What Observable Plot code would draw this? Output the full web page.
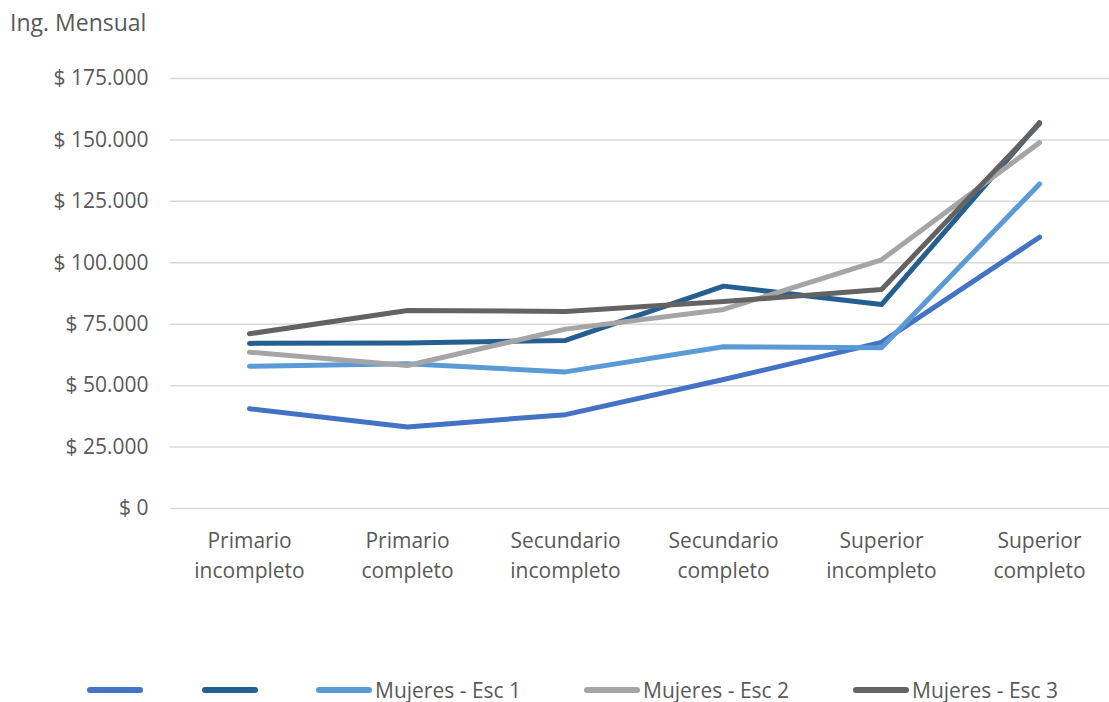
<!DOCTYPE html>
<html>
<head>
<meta charset="utf-8">
<script src="https://cdn.jsdelivr.net/npm/d3@7"></script>
<script src="https://cdn.jsdelivr.net/npm/@observablehq/plot@0.6"></script>
<style>
  html, body { margin: 0; padding: 0; background: #fff; }
  body { width: 1109px; height: 702px; overflow: hidden; font-family: "Open Sans", sans-serif; color: #595959; position: relative; }
  #title { height: 40px; line-height: 40px; padding-left: 10px; font-size: 23px; box-sizing: border-box; margin-top: 2px; }
  #chart { height: 600px; }
  #legend { position: absolute; top: 678px; left: 0; width: 1109px; height: 24px; }
  .item { position: absolute; top: 0; display: flex; align-items: center; height: 24px; line-height: 24px; font-size: 21px; }
  .sw { width: 56px; height: 6px; border-radius: 3px; }
  .lab { margin-left: 3px; white-space: nowrap; }
</style>
</head>
<body>
<div id="title">Ing. Mensual</div>
<div id="chart"></div>
<div id="legend"></div>
<script>
const categories = ["Primario\nincompleto", "Primario\ncompleto", "Secundario\nincompleto", "Secundario\ncompleto", "Superior\nincompleto", "Superior\ncompleto"];
const seriesNames = ["", "", "Mujeres - Esc 1", "Mujeres - Esc 2", "Mujeres - Esc 3"];
const serie1 = [40600, 33200, 38200, 52500, 67600, 110400];
const serie2 = [67200, 67400, 68400, 90500, 83000, 157000];
const serie3 = [57900, 58900, 55600, 65800, 65400, 132100];
const serie4 = [63600, 58200, 73000, 81000, 101200, 148900];
const serie5 = [71100, 80600, 80200, 84200, 89100, 156600];
const yTicks = [0, 25000, 50000, 75000, 100000, 125000, 150000, 175000];
const colors = ["#4472C4", "#255E91", "#5B9BD5", "#A5A5A5", "#636363"];
const allSeries = [serie1, serie2, serie3, serie4, serie5];

const fmt = v => "$ " + d3.format(",")(v).replace(/,/g, ".");

const lineMarks = allSeries.map((s, i) =>
  Plot.line(categories.map((c, j) => ({cat: c, value: s[j]})), {
    x: "cat", y: "value", stroke: colors[i], strokeWidth: 5,
    strokeLinecap: "round", strokeLinejoin: "round"
  })
);

const chart = Plot.plot({
  width: 1109,
  height: 600,
  marginLeft: 170,
  marginRight: 0,
  marginTop: 36,
  marginBottom: 134,
  style: {fontFamily: "Open Sans, sans-serif", fontSize: "21px", color: "#595959", background: "#fff"},
  x: {type: "point", domain: categories, range: [248.6, 1040], padding: 0},
  y: {domain: [0, 175000]},
  marks: [
    Plot.ruleY(yTicks, {stroke: "#d9d9d9", strokeWidth: 1.5}),
    Plot.axisY(yTicks, {tickSize: 0, tickPadding: 22, tickFormat: fmt, fontSize: 21, fill: "#595959", label: null}),
    Plot.axisX(categories, {tickSize: 0, tickPadding: 18, fontSize: 21, fill: "#595959", lineHeight: 1.43, label: null}),
    ...lineMarks
  ]
});
document.getElementById("chart").appendChild(chart);

const legend = document.getElementById("legend");
const legendLeft = [87, 202, 316, 584, 853];
seriesNames.forEach((name, i) => {
  const item = document.createElement("div");
  item.className = "item";
  item.style.left = legendLeft[i] + "px";
  const sw = document.createElement("div");
  sw.className = "sw";
  sw.style.background = colors[i];
  item.appendChild(sw);
  const lab = document.createElement("span");
  lab.className = "lab";
  lab.textContent = name;
  item.appendChild(lab);
  legend.appendChild(item);
});
</script>
</body>
</html>
